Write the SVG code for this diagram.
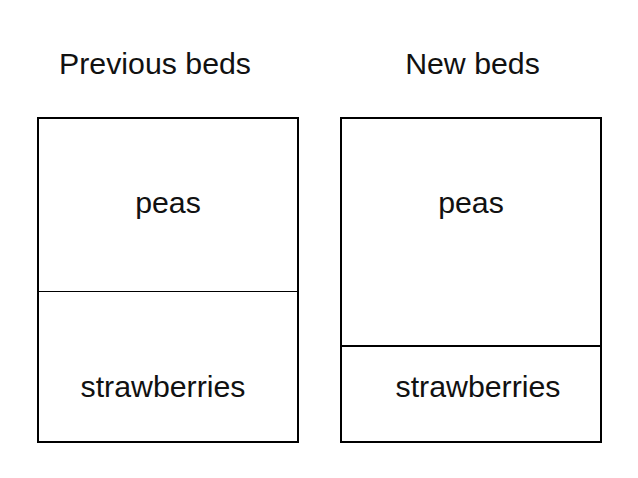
<svg xmlns="http://www.w3.org/2000/svg" width="638" height="478" viewBox="0 0 638 478">
<style>
.box{fill:none;stroke:#000;stroke-width:2}
.div{stroke:#000}
text{font-family:"Liberation Sans",Arial,sans-serif;font-size:30.3px;fill:#111;text-anchor:middle}
</style>
<rect width="638" height="478" fill="#fff"/>
<g id="previous">
<text x="155" y="74">Previous beds</text>
<rect class="box" x="38" y="118" width="260" height="324"/>
<line class="div" x1="38" y1="291.5" x2="298" y2="291.5" stroke-width="1"/>
<text x="168" y="213">peas</text>
<text x="163" y="397">strawberries</text>
</g>
<g id="new">
<text x="472.5" y="74">New beds</text>
<rect class="box" x="341" y="118" width="260" height="324"/>
<line class="div" x1="341" y1="346" x2="601" y2="346" stroke-width="2"/>
<text x="471" y="213">peas</text>
<text x="478" y="397">strawberries</text>
</g>
<g id="connectors"/>
</svg>
